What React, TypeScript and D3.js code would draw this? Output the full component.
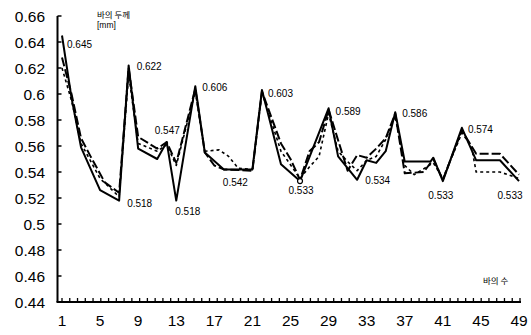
import React from "react";
import * as d3 from "d3";

// Bar thickness (mm) against bar number, three measurement runs.
const solidNodes: [number, number][] = [
  [1, 0.645], [2, 0.597], [3, 0.559], [5, 0.526], [7, 0.518], [8, 0.622], [9, 0.558],
  [11, 0.55], [12, 0.563], [13, 0.518], [15, 0.606], [16, 0.555], [18, 0.542], [21, 0.542],
  [22, 0.603], [24, 0.546], [26, 0.533], [29, 0.589], [30, 0.552], [32, 0.534], [33, 0.549],
  [34, 0.547], [35, 0.556], [36, 0.586], [37, 0.548], [39.7, 0.548], [40, 0.551], [41, 0.533],
  [43, 0.574], [44.5, 0.549], [47, 0.549], [49, 0.533],
];
const dashedNodes: [number, number][] = [
  [1, 0.628], [2, 0.6], [3, 0.566], [4, 0.552], [5.5, 0.532], [7, 0.524], [8, 0.62], [9, 0.567],
  [11, 0.558], [12, 0.563], [13, 0.547], [15, 0.604], [16, 0.555], [17, 0.545], [18, 0.542],
  [21, 0.541], [22, 0.602], [24, 0.562], [25, 0.55], [26, 0.534], [27, 0.556], [28, 0.563],
  [29, 0.588], [31, 0.541], [32, 0.553], [33, 0.551], [34, 0.558], [35, 0.566], [36, 0.585],
  [37, 0.539], [39, 0.54], [40, 0.55], [41, 0.534], [43, 0.572], [44.5, 0.554], [47, 0.554],
  [49, 0.538],
];
const dottedNodes: [number, number][] = [
  [1, 0.62], [2, 0.595], [3, 0.562], [5, 0.535], [7, 0.521], [8, 0.615], [9, 0.562],
  [11, 0.556], [12, 0.561], [13, 0.545], [15, 0.602], [16, 0.556], [17.5, 0.557], [18.5, 0.552],
  [19.5, 0.543], [21, 0.542], [22, 0.601], [24, 0.556], [26, 0.535], [27, 0.544], [28, 0.552],
  [29, 0.585], [30, 0.556], [31, 0.548], [32, 0.541], [33, 0.549], [34, 0.552], [35, 0.565],
  [36, 0.583], [37, 0.545], [38, 0.538], [40, 0.547], [41, 0.535], [43, 0.57], [44, 0.56],
  [44.5, 0.54], [47, 0.54], [49, 0.535],
];

// Annotated values: which run and which bar number each label belongs to.
const labelSeries = ["solid", "solid", "dashed", "solid", "solid", "solid", "solid", "solid", "solid", "solid", "solid", "solid", "solid", "solid", "solid"];
const labelBars = [1, 8, 13, 15, 7, 13, 18, 22, 26, 29, 32, 36, 41, 43, 49];

const yTicks = [0.44, 0.46, 0.48, 0.5, 0.52, 0.54, 0.56, 0.58, 0.6, 0.62, 0.64, 0.66];
const xTickLabels = [1, 5, 9, 13, 17, 21, 25, 29, 33, 37, 41, 45, 49];
const minorTickCount = 60;

const yTitle = "바의 두께";
const yUnit = "[mm]";
const xTitle = "바의 수";

const W = 531;
const H = 335;
const FONT = "'Liberation Sans', Arial, sans-serif";
const KFONT = "'Noto Sans CJK KR', sans-serif";

const x = d3.scaleLinear().domain([1, 49]).range([62, 519]);
const y = d3.scaleLinear().domain([0.44, 0.66]).range([302, 16]);
const minor = d3.scaleLinear().domain([0, minorTickCount - 1]).range([62, 520]);

const axisX = 57.5;

const series: Record<string, [number, number][]> = {
  solid: solidNodes,
  dashed: dashedNodes,
  dotted: dottedNodes,
};

// label placement relative to its node: [dx, dy, anchor]
const placement: [number, number, string][] = [
  [5, 9, "start"],
  [8, 1, "start"],
  [-9, -32, "middle"],
  [7, 1, "start"],
  [8, 3, "start"],
  [-1, 11, "start"],
  [-1, 13, "start"],
  [6, 3, "start"],
  [1, 9, "middle"],
  [7, 3, "start"],
  [8, 1, "start"],
  [7, 1, "start"],
  [-2, 14, "middle"],
  [6, 2, "start"],
  [-9, 14, "middle"],
];

function valueAt(nodes: [number, number][], bar: number): number {
  const n = nodes.find((d) => d[0] === bar);
  return n ? n[1] : NaN;
}

export default function App() {
  const line = d3
    .line<[number, number]>()
    .x((d) => x(d[0]))
    .y((d) => y(d[1]));

  const dip = solidNodes.find((d) => d[0] === 26)!;

  return (
    <svg
      width={W}
      height={H}
      style={{ position: "absolute", left: 0, top: 0, background: "#fff" }}
      fontFamily={FONT}
    >
      <rect width={W} height={H} fill="#fff" />
      {/* axes */}
      <line x1={axisX} x2={axisX} y1={y(0.66)} y2={y(0.44)} stroke="#000" strokeWidth={2} />
      <line x1={axisX - 1} x2={521} y1={y(0.44)} y2={y(0.44)} stroke="#000" strokeWidth={2} />
      {yTicks.map((t) => (
        <g key={t}>
          <line x1={axisX} x2={axisX + 4} y1={y(t)} y2={y(t)} stroke="#000" strokeWidth={1.5} />
          <text x={45} y={y(t)} dominantBaseline="central" textAnchor="end" fontSize={15.5} fill="#000">
            {String(t)}
          </text>
        </g>
      ))}
      {d3.range(minorTickCount).map((i) => (
        <line key={i} x1={minor(i)} x2={minor(i)} y1={y(0.44)} y2={y(0.44) - 4} stroke="#000" strokeWidth={1.3} />
      ))}
      {xTickLabels.map((t) => (
        <text key={t} x={x(t)} y={320} dominantBaseline="central" textAnchor="middle" fontSize={15.5} fill="#000">
          {t}
        </text>
      ))}

      {/* series */}
      <path d={line(dottedNodes) || ""} fill="none" stroke="#000" strokeWidth={1.6} strokeDasharray="3,3" strokeLinejoin="round" />
      <path d={line(dashedNodes) || ""} fill="none" stroke="#000" strokeWidth={2} strokeDasharray="9,3" strokeLinejoin="round" />
      <path d={line(solidNodes) || ""} fill="none" stroke="#000" strokeWidth={2} strokeLinejoin="round" />
      <circle cx={x(dip[0])} cy={y(dip[1])} r={2.5} fill="#fff" stroke="#000" strokeWidth={1.2} />

      {/* value labels */}
      {labelBars.map((bar, i) => {
        const v = valueAt(series[labelSeries[i]], bar);
        const [dx, dy, anchor] = placement[i];
        return (
          <text
            key={i}
            x={x(bar) + dx}
            y={y(v) + dy}
            dominantBaseline="central"
            textAnchor={anchor as any}
            fontSize={10}
            fill="#000"
          >
            {v.toFixed(3)}
          </text>
        );
      })}

      {/* titles */}
      <text x={97} y={13.5} dominantBaseline="central" fontSize={8.5} fontFamily={KFONT} fill="#000">
        {yTitle}
      </text>
      <text x={97} y={25} dominantBaseline="central" fontSize={8.5} fill="#000">
        {yUnit}
      </text>
      <text x={483} y={280} dominantBaseline="central" fontSize={8.5} fontFamily={KFONT} fill="#000">
        {xTitle}
      </text>
    </svg>
  );
}
